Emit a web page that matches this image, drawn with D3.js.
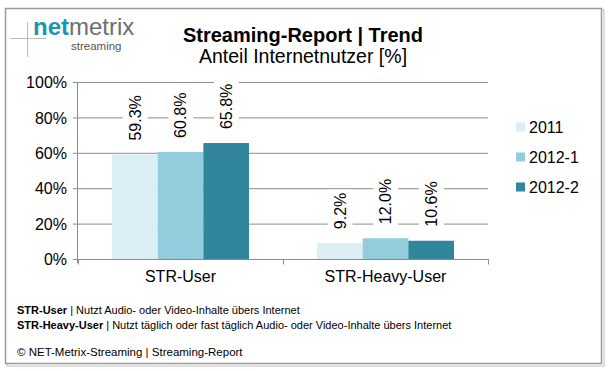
<!DOCTYPE html>
<html lang="de">
<head>
  <meta charset="UTF-8">
  <title>Streaming-Report | Trend</title>
  <style>
    body, html { margin: 0; padding: 0; background: #fff; }
    svg { display: block; font-family: Arial, "Liberation Sans", sans-serif; }
  </style>
</head>
<body>
  <svg id="svg" width="611" height="371"></svg>

  <script src="https://cdn.jsdelivr.net/npm/d3@7"></script>
  <script>
    const categories = ['STR-User', 'STR-Heavy-User'];
    const series = ['2011', '2012-1', '2012-2'];
    const values2011 = [59.3, 9.2];
    const values2012_1 = [60.8, 12.0];
    const values2012_2 = [65.8, 10.6];
    const yTicks = [0, 20, 40, 60, 80, 100];
    const colors = ['#dbeef4', '#93cddd', '#31869b'];

    const rows = categories.map((c, i) => ({
      category: c,
      values: [values2011[i], values2012_1[i], values2012_2[i]]
    }));

    const svg = d3.select('#svg');

    // frame with a light shadow
    svg.append('rect')
      .attr('x', 7).attr('y', 10).attr('width', 597).attr('height', 356)
      .attr('fill', 'none').attr('stroke', '#d4d4d4').attr('stroke-width', 1.5);
    svg.append('rect')
      .attr('x', 5.5).attr('y', 8.5).attr('width', 596).attr('height', 355)
      .attr('fill', '#fff').attr('stroke', '#9a9a9a').attr('stroke-width', 1.5);

    // logo
    const logo = svg.append('g');
    logo.append('line').attr('x1', 10).attr('x2', 46).attr('y1', 38.5).attr('y2', 38.5)
      .attr('stroke', '#bbb');
    logo.append('line').attr('x1', 27.5).attr('x2', 27.5).attr('y1', 22).attr('y2', 57)
      .attr('stroke', '#bbb');
    const brand = logo.append('text').attr('x', 33).attr('y', 35).style('font-size', '24px');
    brand.append('tspan').attr('fill', '#1796b3').style('font-weight', 'bold').text('net');
    brand.append('tspan').attr('fill', '#6e6e6e').text('metrix');
    logo.append('text').attr('x', 71).attr('y', 50).attr('fill', '#555')
      .style('font-size', '11.5px').text('streaming');

    // titles
    svg.append('text').attr('x', 303).attr('y', 42).attr('text-anchor', 'middle')
      .style('font-size', '20px').style('font-weight', 'bold').text('Streaming-Report | Trend');
    svg.append('text').attr('x', 303).attr('y', 63).attr('text-anchor', 'middle')
      .style('font-size', '19.5px').text('Anteil Internetnutzer [%]');

    const x0 = d3.scaleBand().domain(categories).range([78, 488]).padding(0);
    const x1 = d3.scaleBand().domain(series).range([34, x0.bandwidth() - 34]).padding(0);
    const y = d3.scaleLinear().domain([0, 100]).range([259.5, 82.5]);

    // gridlines + y tick marks
    svg.append('g').selectAll('line')
      .data(yTicks.filter(t => t > 0))
      .join('line')
      .attr('x1', 73).attr('x2', 488)
      .attr('y1', d => y(d)).attr('y2', d => y(d))
      .attr('stroke', '#8c8c8c').attr('stroke-width', 1);

    // bars
    const groups = svg.append('g').selectAll('g')
      .data(rows)
      .join('g')
      .attr('transform', d => `translate(${x0(d.category)},0)`);

    groups.selectAll('rect')
      .data(d => d.values.map((v, i) => ({ key: series[i], value: v, idx: i })))
      .join('rect')
      .attr('x', d => x1(d.key))
      .attr('y', d => y(d.value))
      .attr('width', x1.bandwidth())
      .attr('height', d => y(0) - y(d.value))
      .attr('fill', d => colors[d.idx]);

    // rotated value labels on white boxes
    const labels = groups.selectAll('g.lbl')
      .data(d => d.values.map((v, i) => ({ key: series[i], value: v })))
      .join('g')
      .attr('class', 'lbl')
      .attr('transform', d => `translate(${x1(d.key) + x1.bandwidth() / 2},${y(d.value) - 14}) rotate(-90)`);

    labels.append('rect').attr('class', 'bg').attr('fill', '#fff');
    labels.append('text')
      .attr('x', 0).attr('y', 0)
      .attr('dy', '0.36em')
      .style('font-size', '16px')
      .text(d => d.value.toFixed(1) + '%');

    labels.each(function () {
      const g = d3.select(this);
      const bb = g.select('text').node().getBBox();
      g.select('rect.bg')
        .attr('x', bb.x - 3).attr('y', bb.y - 4)
        .attr('width', bb.width + 6).attr('height', bb.height + 8);
    });

    // axes
    svg.append('line').attr('x1', 77.5).attr('x2', 77.5).attr('y1', 82).attr('y2', 263)
      .attr('stroke', '#8c8c8c');
    svg.append('line').attr('x1', 73).attr('x2', 489).attr('y1', y(0)).attr('y2', y(0))
      .attr('stroke', '#8c8c8c');
    svg.append('g').selectAll('line')
      .data([x0.range()[0], x0(categories[1]), x0.range()[1]])
      .join('line')
      .attr('x1', d => d + 0.5).attr('x2', d => d + 0.5)
      .attr('y1', y(0)).attr('y2', y(0) + 5)
      .attr('stroke', '#8c8c8c');

    svg.append('g').selectAll('text')
      .data(yTicks)
      .join('text')
      .attr('x', 67).attr('y', d => y(d)).attr('dy', '0.36em')
      .attr('text-anchor', 'end')
      .style('font-size', '16px')
      .text(d => d + '%');

    svg.append('g').selectAll('text')
      .data(categories)
      .join('text')
      .attr('x', d => x0(d) + x0.bandwidth() / 2).attr('y', 282)
      .attr('text-anchor', 'middle')
      .style('font-size', '16px')
      .text(d => d);

    // legend
    const legend = svg.append('g').selectAll('g')
      .data(series)
      .join('g')
      .attr('transform', (d, i) => `translate(516,${127 + i * 30})`);
    legend.append('rect').attr('x', 0).attr('y', -4.5).attr('width', 9).attr('height', 9)
      .attr('fill', (d, i) => colors[i]);
    legend.append('text').attr('x', 13).attr('y', 0).attr('dy', '0.36em')
      .style('font-size', '16px').text(d => d);

    // footnotes
    const notes = [
      ['STR-User', ' | Nutzt Audio- oder Video-Inhalte übers Internet'],
      ['STR-Heavy-User', ' | Nutzt täglich oder fast täglich Audio- oder Video-Inhalte übers Internet']
    ];
    notes.forEach((n, i) => {
      const t = svg.append('text').attr('x', 17).attr('y', 314 + i * 14.5).style('font-size', '11px');
      t.append('tspan').style('font-weight', 'bold').text(n[0]);
      t.append('tspan').text(n[1]);
    });
    svg.append('text').attr('x', 17).attr('y', 356).style('font-size', '11.5px')
      .text('© NET-Metrix-Streaming | Streaming-Report');
  </script>
</body>
</html>
